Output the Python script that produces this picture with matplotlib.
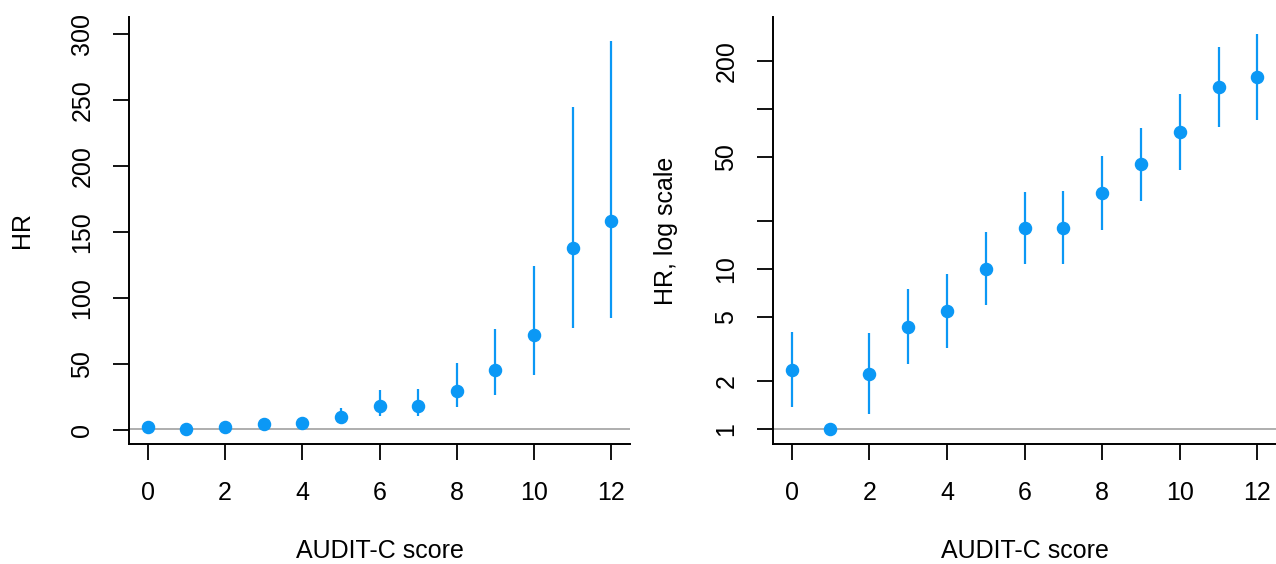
import numpy as np
import matplotlib
matplotlib.use("Agg")
import matplotlib.pyplot as plt
from matplotlib.ticker import NullLocator

plt.rcParams['font.family'] = ['Liberation Sans', 'DejaVu Sans']

# AUDIT-C score vs hazard ratio with 95% CI (score 1 is the reference)
score = list(range(13))
hr = [2.34, 1.0, 2.21, 4.34, 5.46, 10.0, 18.0, 18.0, 29.9, 45.4, 72.0, 138, 158]
ci_lo = [1.37, np.nan, 1.24, 2.55, 3.2, 5.96, 10.8, 10.8, 17.6, 26.5, 41.8, 77, 85]
ci_hi = [4.04, np.nan, 3.98, 7.5, 9.3, 17.0, 30.4, 30.8, 50.6, 76.5, 124, 245, 295]

lin_ticks = [0, 50, 100, 150, 200, 250, 300]
log_ticks = [1, 2, 5, 10, 20, 50, 100, 200]
log_labels = ["1", "2", "5", "10", "", "50", "", "200"]
x_ticks = [0, 2, 4, 6, 8, 10, 12]

blue = "#0b98f5"
fs = 18

fig = plt.figure(figsize=(12.76, 5.64), dpi=100)
ax1 = fig.add_axes([129 / 1276, 120 / 564, 501 / 1276, 427 / 564])
ax2 = fig.add_axes([773 / 1276, 120 / 564, 503 / 1276, 427 / 564])


def style(ax, ylab):
    ax.axhline(1, color="#a8a8a8", lw=1.3, zorder=1)
    ax.vlines(score, ci_lo, ci_hi, color=blue, lw=1.6, zorder=2)
    ax.plot(score, hr, "o", color=blue, ms=8.7, mec=blue, zorder=3)
    for s in ["top", "right"]:
        ax.spines[s].set_visible(False)
    for s in ["left", "bottom"]:
        ax.spines[s].set_linewidth(1.4)
    ax.set_xlim(-0.48, 12.48)
    ax.set_xticks(x_ticks)
    ax.tick_params(axis="both", direction="out", length=11.5, width=1.3,
                   labelsize=fs)
    ax.tick_params(axis="x", pad=15.5)
    ax.tick_params(axis="y", pad=13.5)
    ax.set_xlabel("AUDIT-C score", fontsize=fs, va="center")
    ax.xaxis.set_label_coords(0.5, -0.2506)
    ax.set_ylabel(ylab, fontsize=fs, va="center")
    ax.yaxis.set_label_coords(-107 / 501, 0.5)


style(ax1, "HR")
ax1.set_ylim(-10.6, 312.9)
ax1.set_yticks(lin_ticks)
ax1.set_yticklabels([str(t) for t in lin_ticks], rotation=90, va="center")

style(ax2, "HR, log scale")
ax2.yaxis.set_label_coords(-107 / 503, 0.5)
ax2.set_yscale("log")
ax2.set_ylim(10 ** -0.094, 10 ** 2.575)
ax2.set_yticks(log_ticks)
ax2.set_yticklabels(log_labels, rotation=90, va="center")
ax2.yaxis.set_minor_locator(NullLocator())

fig.savefig("out.png", dpi=100)
